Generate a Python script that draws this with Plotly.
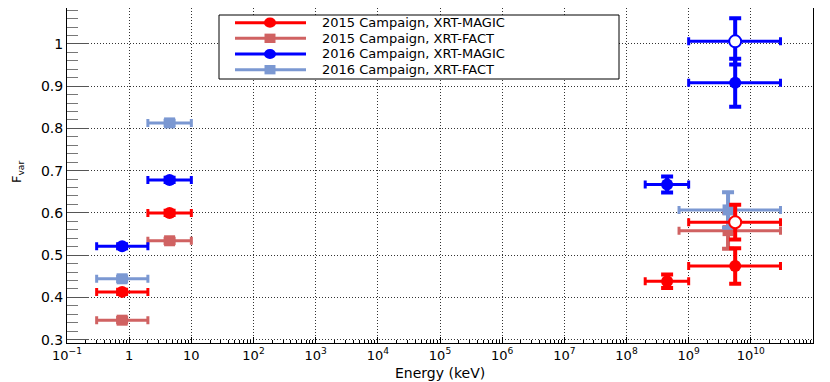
import plotly.graph_objects as go

# ---------------- data ----------------
# 2015 Campaign, XRT-MAGIC
m15_energy = [0.77, 4.47, 4.5e8, 5.6e9]
m15_elo = [0.3, 2.0, 2.0e8, 1.0e9]
m15_ehi = [2.0, 10.0, 1.0e9, 3.0e10]
m15_fvar = [0.413, 0.600, 0.438, 0.474]
m15_err = [0.005, 0.005, 0.016, 0.042]

# 2015 Campaign, XRT-FACT
f15_energy = [0.77, 4.47, 4.3e9]
f15_elo = [0.3, 2.0, 7.0e8]
f15_ehi = [2.0, 10.0, 3.0e10]
f15_fvar = [0.346, 0.534, 0.558]
f15_err = [0.005, 0.005, 0.043]

# 2016 Campaign, XRT-MAGIC
m16_energy = [0.77, 4.47, 4.5e8, 5.6e9]
m16_elo = [0.3, 2.0, 2.0e8, 1.0e9]
m16_ehi = [2.0, 10.0, 1.0e9, 3.0e10]
m16_fvar = [0.521, 0.678, 0.667, 0.908]
m16_err = [0.005, 0.005, 0.019, 0.057]

# 2016 Campaign, XRT-FACT
f16_energy = [0.77, 4.47, 4.3e9]
f16_elo = [0.3, 2.0, 7.0e8]
f16_ehi = [2.0, 10.0, 3.0e10]
f16_fvar = [0.444, 0.813, 0.607]
f16_err = [0.005, 0.005, 0.042]

# open markers (no legend entry)
o15_energy = [5.6e9]
o15_elo = [1.0e9]
o15_ehi = [3.0e10]
o15_fvar = [0.578]
o15_err = [0.041]

o16_energy = [5.6e9]
o16_elo = [1.0e9]
o16_ehi = [3.0e10]
o16_fvar = [1.006]
o16_err = [0.055]

legend_labels = ["2015 Campaign, XRT-MAGIC", "2015 Campaign, XRT-FACT",
                 "2016 Campaign, XRT-MAGIC", "2016 Campaign, XRT-FACT"]
x_tick_exps = list(range(-1, 11))
x_tick_labels = ["10<sup>−1</sup>", "1", "10"] + [f"10<sup>{n}</sup>" for n in range(2, 11)]
y_tick_vals = [0.3, 0.4, 0.5, 0.6, 0.7, 0.8, 0.9, 1.0]
y_tick_labels = ["0.3", "0.4", "0.5", "0.6", "0.7", "0.8", "0.9", "1"]

RED = "#ff0000"
LRED = "#d06262"
BLUE = "#0000ff"
LBLUE = "#7b98d2"
FONT = "DejaVu Sans"

# ---------------- figure ----------------
fig = go.Figure()


def add_series(energy, elo, ehi, fvar, err, color, symbol, size, name,
               fill=None, show=False):
    fig.add_trace(go.Scatter(
        x=energy, y=fvar, mode="markers", name=name, showlegend=show,
        marker=dict(symbol=symbol, size=size, color=fill if fill else color,
                    line=dict(color=color, width=2 if fill else 0)),
        error_x=dict(type="data", symmetric=False,
                     array=[h - e for h, e in zip(ehi, energy)],
                     arrayminus=[e - l for e, l in zip(energy, elo)],
                     color=color, thickness=3, width=4),
        error_y=dict(type="data", array=err, color=color, thickness=4, width=6),
    ))


add_series(f15_energy, f15_elo, f15_ehi, f15_fvar, f15_err, LRED, "square", 11, legend_labels[1])
add_series(f16_energy, f16_elo, f16_ehi, f16_fvar, f16_err, LBLUE, "square", 11, legend_labels[3])
add_series(m15_energy, m15_elo, m15_ehi, m15_fvar, m15_err, RED, "circle", 12, legend_labels[0])
add_series(m16_energy, m16_elo, m16_ehi, m16_fvar, m16_err, BLUE, "circle", 12, legend_labels[2])
add_series(o15_energy, o15_elo, o15_ehi, o15_fvar, o15_err, RED, "circle", 12, "2015 open", fill="white")
add_series(o16_energy, o16_elo, o16_ehi, o16_fvar, o16_err, BLUE, "circle", 12, "2016 open", fill="white")

# page offset (body margin) and plot area in page pixels
OFF = 8
PW, PH = 830, 382
L, R, T, B = 67, 813, 8, 343
W, H = PW - OFF, PH - OFF


def px(xp):
    return (xp - L) / (R - L)


def py(yp):
    return (B - yp) / (B - T)


minor_x = [k * 10 ** n for n in range(-1, 11) for k in range(2, 10)]
DASH = "1px,2px"
GRID = "#333"

fig.update_xaxes(
    type="log", range=[-1, 11],
    tickmode="array", tickvals=[10 ** n for n in x_tick_exps], ticktext=x_tick_labels,
    ticks="inside", ticklen=6, tickwidth=1, tickcolor="black",
    showgrid=True, griddash=DASH, gridcolor=GRID, gridwidth=1,
    showline=True, linecolor="black", linewidth=1, mirror=True,
    zeroline=False,
    minor=dict(tickmode="array", tickvals=minor_x, ticks="inside", ticklen=3,
               tickcolor="black", showgrid=False),
    tickfont=dict(family=FONT, size=13, color="black"),
)
fig.update_yaxes(
    range=[0.292, 1.085],
    tickmode="array", tickvals=y_tick_vals, ticktext=y_tick_labels,
    ticks="inside", ticklen=22, tickwidth=1, tickcolor="#555",
    showgrid=True, griddash=DASH, gridcolor=GRID, gridwidth=1,
    showline=True, linecolor="black", linewidth=1, mirror=True,
    zeroline=False,
    minor=dict(dtick=0.02, tick0=0.3, ticks="inside", ticklen=11, tickcolor="#777",
               showgrid=False),
    tickfont=dict(family=FONT, size=14, color="black"),
)

shapes = []
annotations = []

# legend box
shapes.append(dict(type="rect", xref="paper", yref="paper",
                   x0=px(219), x1=px(619), y0=py(79), y1=py(15),
                   line=dict(color="black", width=1), fillcolor="white", layer="above"))
rows = [22.7, 38.3, 54.0, 69.7]
leg_colors = [RED, LRED, BLUE, LBLUE]
leg_symbols = ["circle", "square", "circle", "square"]
for lbl, yr, col, sym in zip(legend_labels, rows, leg_colors, leg_symbols):
    shapes.append(dict(type="line", xref="paper", yref="paper",
                       x0=px(235), x1=px(306), y0=py(yr), y1=py(yr),
                       line=dict(color=col, width=3), layer="above"))
    r = 6 if sym == "circle" else 5.5
    shapes.append(dict(type="circle" if sym == "circle" else "rect",
                       xref="paper", yref="paper",
                       x0=px(270 - r), x1=px(270 + r), y0=py(yr + r * 0.85), y1=py(yr - r * 0.85),
                       line=dict(color=col, width=0), fillcolor=col, layer="above"))
    annotations.append(dict(text=lbl, xref="paper", yref="paper",
                            x=px(320), y=py(yr), xanchor="left", yanchor="middle",
                            showarrow=False, font=dict(family=FONT, size=13, color="black")))

# axis titles
annotations.append(dict(text="F<sub>var</sub>", xref="paper", yref="paper",
                        x=px(18), y=py(172), xanchor="center", yanchor="middle",
                        textangle=-90, showarrow=False,
                        font=dict(family=FONT, size=13, color="black")))
annotations.append(dict(text="Energy (keV)", xref="paper", yref="paper",
                        x=0.5, y=py(373), xanchor="center", yanchor="middle",
                        showarrow=False, font=dict(family=FONT, size=14, color="black")))

fig.update_layout(
    width=W, height=H,
    margin=dict(l=L - OFF, r=PW - R, t=T - OFF, b=PH - B, autoexpand=False),
    plot_bgcolor="white", paper_bgcolor="white",
    showlegend=False,
    shapes=shapes, annotations=annotations,
    font=dict(family=FONT, color="black"),
)

fig.write_html("out.html")
